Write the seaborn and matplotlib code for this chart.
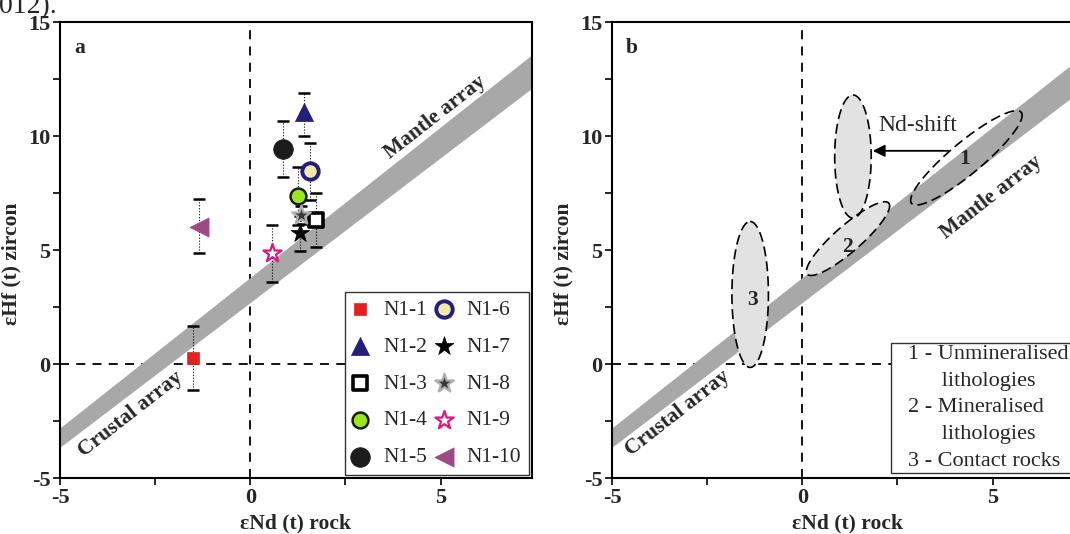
import numpy as np
import matplotlib
matplotlib.use("Agg")
import matplotlib.pyplot as plt
from matplotlib.patches import Rectangle
import seaborn as sns

''' Data read off the figure '''
# Panel a: zircon eHf(t) against whole-rock eNd(t)
samples = ["N1-1", "N1-2", "N1-3", "N1-4", "N1-5",
           "N1-6", "N1-7", "N1-8", "N1-9", "N1-10"]
end_rock = [-1.5, 1.4, 1.72, 1.24, 0.87, 1.56, 1.3, 1.32, 0.58, -1.35]
ehf_zircon = [0.25, 11.05, 6.3, 7.37, 9.43, 8.46, 5.74, 6.55, 4.87, 6.0]
ehf_low = [-1.14, 10.0, 5.13, 6.1, 8.2, 7.2, 4.95, 6.15, 3.6, 4.87]
ehf_high = [1.67, 11.9, 7.5, 8.64, 10.66, 9.7, 6.5, 6.95, 6.1, 7.24]

# Terrestrial (mantle/crustal) array band: eHf = slope * eNd + intercept
band_upper = (1.32, 3.8)
band_lower = (1.27, 2.7)

# Panel b: fields (centre, major semi-axis vector, minor semi-axis vector)
field_centre = [(4.31, 9.04), (1.33, 9.1), (1.2, 5.5), (-1.37, 3.05)]
field_major = [(1.44, 2.0), (0.0, 2.7), (1.07, 1.56), (0.0, 3.2)]
field_minor = [(0.27, -0.54), (0.48, 0.0), (0.23, -0.43), (0.48, 0.0)]
field_fill = ["none", "#e2e2e2", "#e2e2e2", "#e2e2e2"]
field_labels = ["1", "", "2", "3"]
field_label_pos = [(4.26, 9.0), None, (1.19, 5.15), (-1.3, 2.8)]

shift_from = (3.84, 9.35)
shift_to = (1.85, 9.35)

legend_b = ["1 - Unmineralised", "      lithologies", "2 - Mineralised",
            "      lithologies", "3 - Contact rocks"]

''' Styling '''
sns.set_style("ticks")
plt.rcParams["font.family"] = ["Liberation Serif", "DejaVu Serif"]
plt.rcParams["axes.unicode_minus"] = False

marker_specs = [
    dict(marker="s", s=80, color="#e02222", edgecolor="#e02222", linewidth=0.5),
    dict(marker="^", s=170, color="#231f7a", edgecolor="#231f7a", linewidth=0.5),
    dict(marker="s", s=100, color="white", edgecolor="black", linewidth=2.6),
    dict(marker="o", s=130, color="#9be61c", edgecolor="#1a1a1a", linewidth=1.8),
    dict(marker="o", s=200, color="#1c1c1c", edgecolor="#1c1c1c", linewidth=0.5),
    dict(marker="o", s=140, color="#f2eaa6", edgecolor="#22207e", linewidth=2.8),
    dict(marker="*", s=200, color="black", edgecolor="black", linewidth=0.5),
    dict(marker="*", s=200, color="#3a3a3a", edgecolor="#b0b0b0", linewidth=1.6),
    dict(marker="*", s=190, color="white", edgecolor="#e0187a", linewidth=1.6),
    dict(marker="<", s=190, color="#9c4a86", edgecolor="#9c4a86", linewidth=0.5),
]

fig = plt.figure(figsize=(10.7, 5.34), dpi=100)
ax_a = fig.add_axes([60 / 1070, 56 / 534, 472 / 1070, 456 / 534])
ax_b = fig.add_axes([612 / 1070, 56 / 534, 472 / 1070, 456 / 534])

xg = np.linspace(-6, 9, 50)
label_font = dict(fontsize=15.5, fontweight="bold")


def setup(ax, letter):
    ax.fill_between(xg, band_lower[0] * xg + band_lower[1],
                    band_upper[0] * xg + band_upper[1],
                    color="#a8a8a8", lw=0, zorder=1)
    ax.axvline(0, color="black", ls=(0, (5, 4)), lw=1.3, zorder=0)
    ax.axhline(0, color="black", ls=(0, (5, 4)), lw=1.3, zorder=0)
    ax.set_xlim(-5, 7.4)
    ax.set_ylim(-5, 15)
    ax.set_xticks([-5, 0, 5])
    ax.set_xticks([-2.5, 2.5], minor=True)
    ax.set_yticks([-5, 0, 5, 10, 15])
    ax.set_yticks([-2.5, 2.5, 7.5, 12.5], minor=True)
    ax.tick_params(which="both", direction="out", length=5, width=1.4,
                   labelsize=16, pad=2)
    for lab in ax.get_xticklabels() + ax.get_yticklabels():
        lab.set_fontweight("bold")
    for sp in ax.spines.values():
        sp.set_visible(True)
        sp.set_linewidth(1.5)
        sp.set_color("black")
    ax.set_xlabel("εNd (t) rock", **label_font)
    ax.set_ylabel("εHf (t) zircon", **label_font)
    ax.xaxis.set_label_coords(0.5, -0.078)
    ax.yaxis.set_label_coords(-0.082, 0.47)
    ax.text(0.03, 0.965, letter, transform=ax.transAxes, ha="left", va="top",
            **label_font)


setup(ax_a, "a")
setup(ax_b, "b")

''' Panel a '''
eb = ax_a.errorbar(end_rock, ehf_zircon,
                   yerr=[np.subtract(ehf_zircon, ehf_low), np.subtract(ehf_high, ehf_zircon)],
                   fmt="none", ecolor="black", elinewidth=0.8, capsize=4.5,
                   capthick=1.8, zorder=2)
eb[2][0].set_linestyle(":")

for i, name in enumerate(samples):
    sns.scatterplot(x=[end_rock[i]], y=[ehf_zircon[i]], label=name, ax=ax_a,
                    zorder=3, **marker_specs[i])

ax_a.legend(ncol=2, loc="lower right", bbox_to_anchor=(1.0, 0.0),
            borderaxespad=0.15, fontsize=15.5, frameon=True, fancybox=False,
            edgecolor="#333333", framealpha=1, labelspacing=0.78,
            handletextpad=0.72, columnspacing=0.42, borderpad=0.35,
            handlelength=0.7)
ax_a.get_legend().get_frame().set_linewidth(1.0)

ax_a.text(4.87, 10.8, "Mantle array", rotation=38, ha="center", va="center",
          rotation_mode="anchor", **label_font)
ax_a.text(-3.15, -2.2, "Crustal array", rotation=38, ha="center", va="center",
          rotation_mode="anchor", **label_font)

''' Panel b '''
t = np.linspace(0, 2 * np.pi, 200)
for c, u, v, fc in zip(field_centre, field_major, field_minor, field_fill):
    ex = c[0] + u[0] * np.cos(t) + v[0] * np.sin(t)
    ey = c[1] + u[1] * np.cos(t) + v[1] * np.sin(t)
    if fc != "none":
        ax_b.fill(ex, ey, color=fc, lw=0, zorder=2)
    ax_b.plot(ex, ey, color="black", ls=(0, (6, 3)), lw=1.2, zorder=3)

for lab, pos in zip(field_labels, field_label_pos):
    if pos is not None:
        ax_b.text(pos[0], pos[1], lab, ha="center", va="center", zorder=4,
                  **label_font)

ax_b.annotate("", xy=shift_to, xytext=shift_from, zorder=4,
              arrowprops=dict(arrowstyle="-|>", color="black", lw=1.3,
                              mutation_scale=18, shrinkA=0, shrinkB=0))
ax_b.text(3.04, 10.45, "Nd-shift", ha="center", va="center", fontsize=17)

ax_b.text(4.95, 7.33, "Mantle array", rotation=38, ha="center", va="center",
          rotation_mode="anchor", **label_font)
ax_b.text(-3.28, -2.15, "Crustal array", rotation=38, ha="center", va="center",
          rotation_mode="anchor", **label_font)

# legend box of panel b (runs past the right edge, as in the source)
ax_b.add_patch(Rectangle((0.591, 0.011), 0.6, 0.285, transform=ax_b.transAxes,
                         fc="white", ec="#333333", lw=1.0, zorder=5,
                         clip_on=False))
ax_b.text(0.628, 0.292, "\n".join(legend_b), transform=ax_b.transAxes,
          ha="left", va="top", fontsize=16, linespacing=1.55, zorder=6)

# caption remnant clipped at the top edge
fig.text(-0.001, 1 - 13 / 534, "012).", fontsize=20, ha="left", va="baseline")

fig.savefig("out.png", dpi=100)
